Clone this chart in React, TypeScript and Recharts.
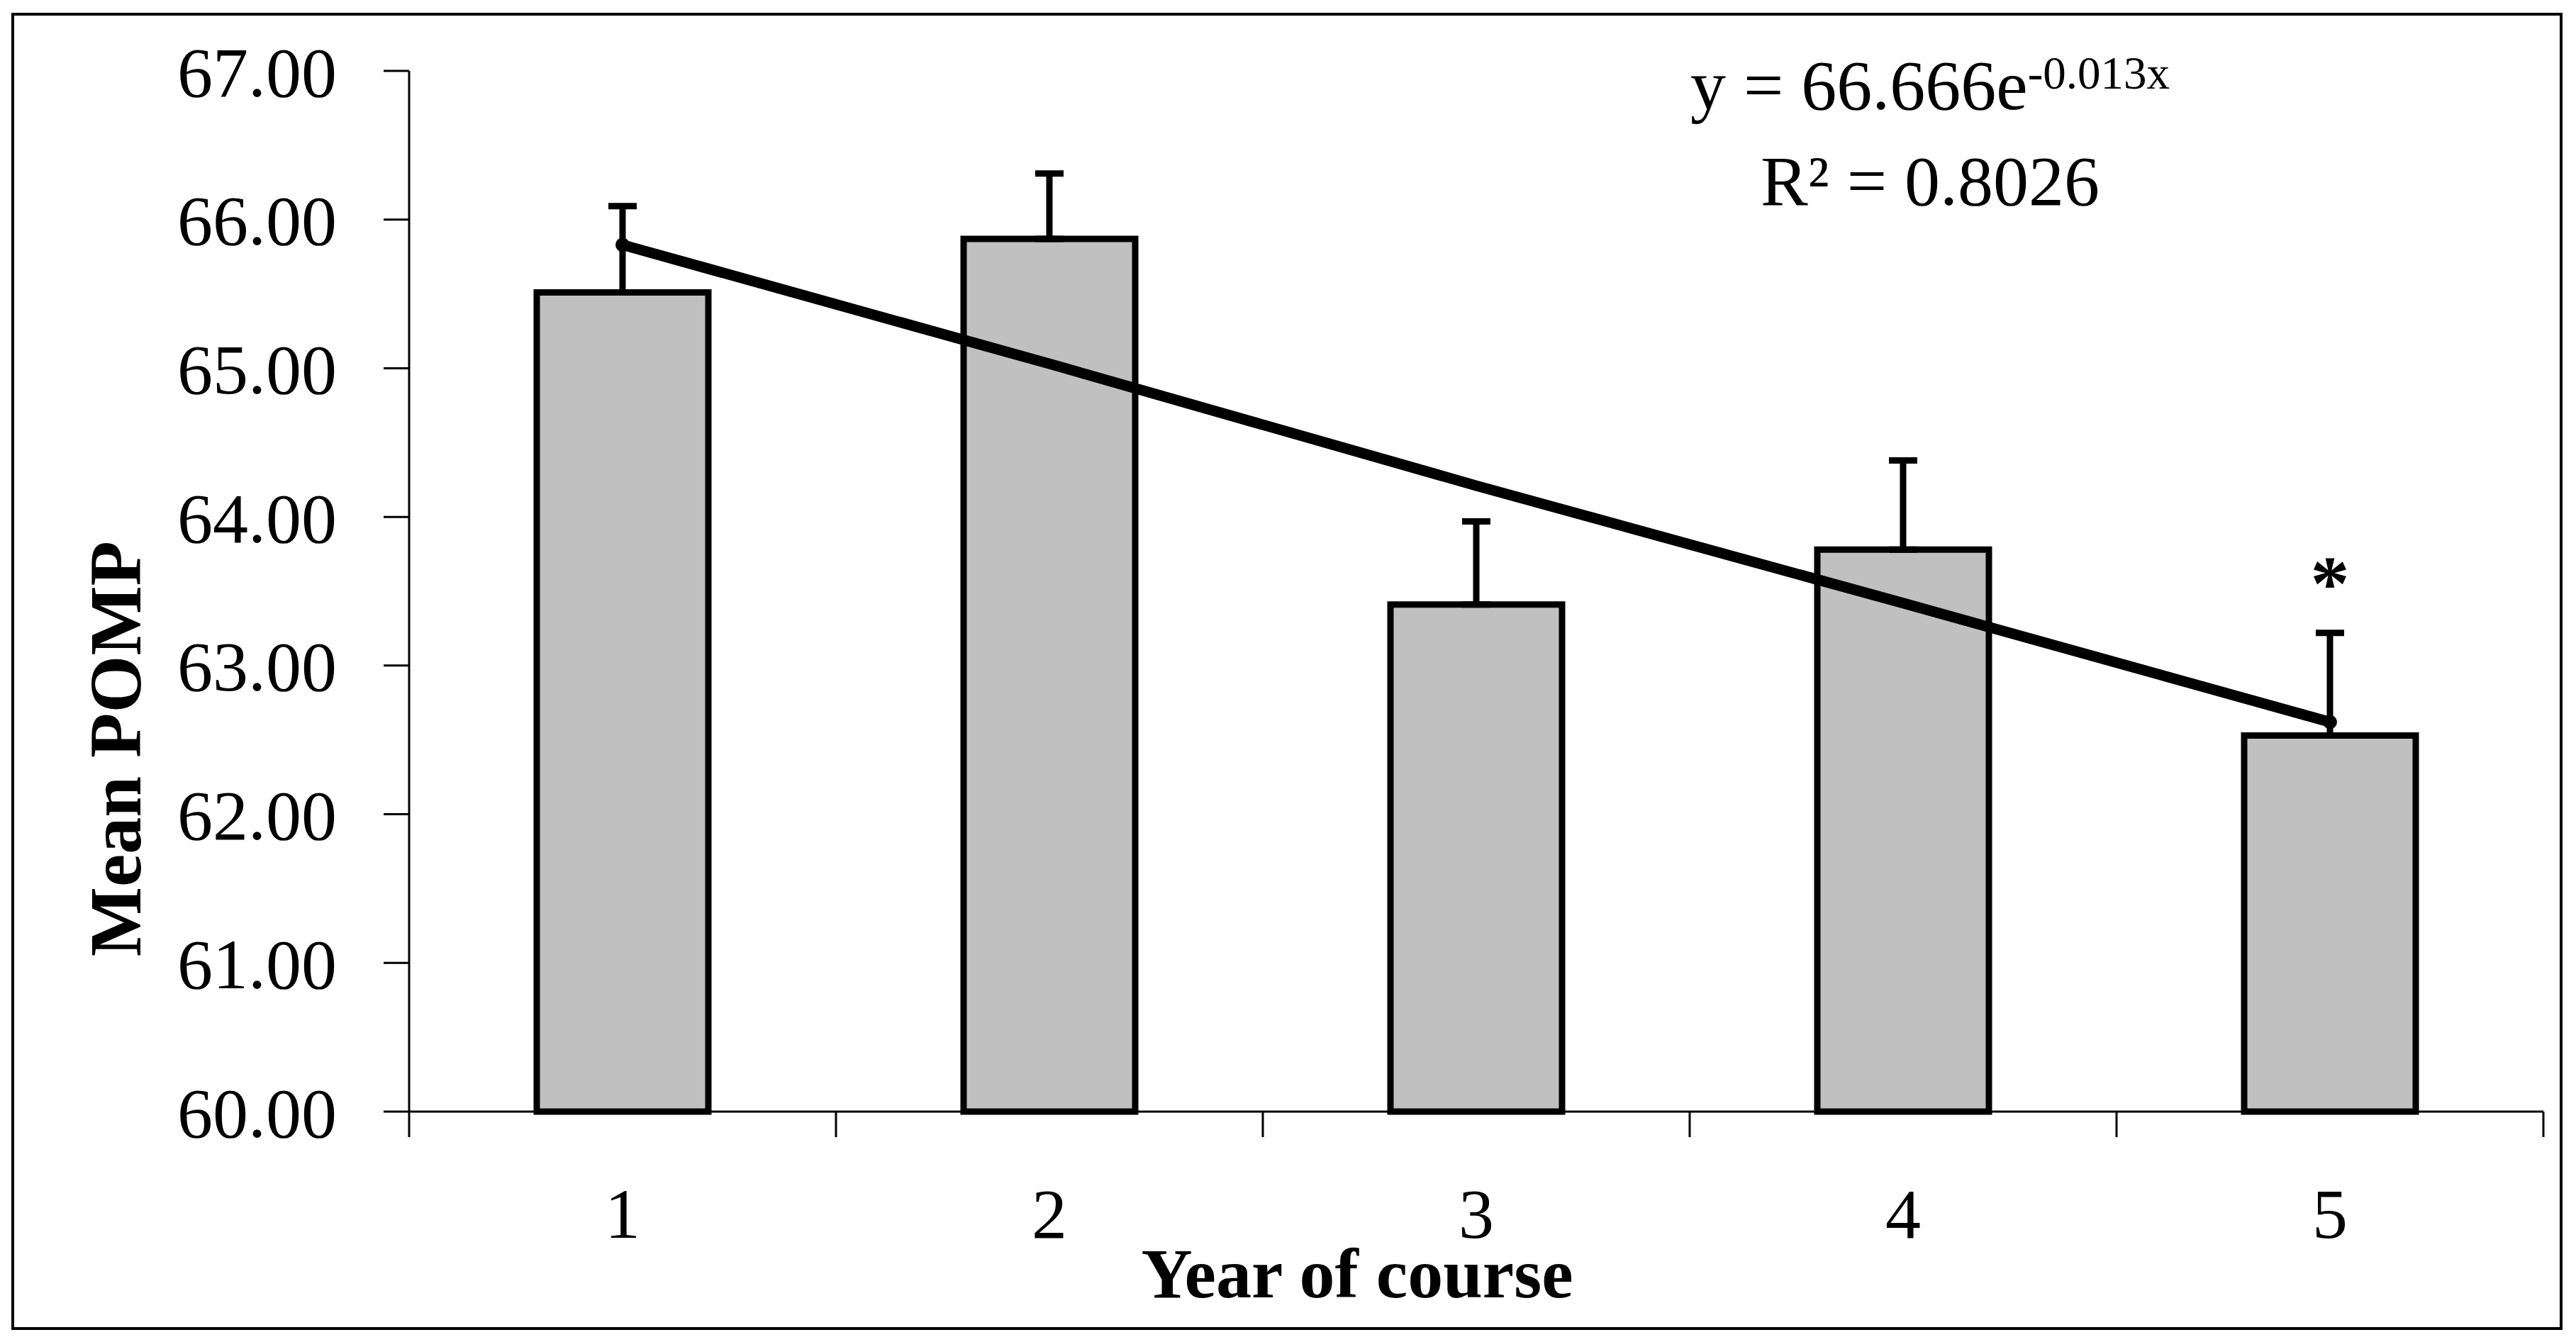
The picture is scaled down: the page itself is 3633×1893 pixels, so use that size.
import { ComposedChart, Bar, Line, XAxis, YAxis, ErrorBar, LabelList } from 'recharts';

const years = [1, 2, 3, 4, 5];
const meanPomp = [65.51, 65.87, 63.41, 63.78, 62.53];
const sdUpper = [0.58, 0.44, 0.56, 0.6, 0.69];
const trendValues = [65.83, 65.03, 64.21, 63.42, 62.62];
const significance = ['', '', '', '', '*'];
const yTicks = [60, 61, 62, 63, 64, 65, 66, 67];
// tick marks sit between the years, labels on the years
const xTicks = [...years.flatMap((y) => [y - 0.5, y]), years[years.length - 1] + 0.5];

const FONT = "'Liberation Serif', 'Times New Roman', serif";

const data = years.map((year, i) => ({
  year,
  mean: meanPomp[i],
  err: [0, sdUpper[i]],
  trend: trendValues[i],
  sig: significance[i],
}));

function XTick(props: any) {
  const { x, y, payload } = props;
  const v = Number(payload.value);
  if (!Number.isInteger(v)) {
    return <line x1={x} x2={x} y1={y} y2={y + 36} stroke="#000" strokeWidth={3} />;
  }
  return (
    <text x={x} y={y + 178} textAnchor="middle" fontSize={100} fontFamily={FONT} fill="#000">
      {v}
    </text>
  );
}

function TrendDot(props: any) {
  const { cx, cy, index } = props;
  if (index === 0 || index === trendValues.length - 1) {
    return <circle key={`dot-${index}`} cx={cx} cy={cy} r={10} fill="#000" />;
  }
  return <g key={`dot-${index}`} />;
}

function SigLabel(props: any) {
  const { x, y, width, value } = props;
  if (!value) return null;
  return (
    <text x={x + width / 2} y={y - 177} textAnchor="middle" fontSize={110} fontWeight="bold" fontFamily={FONT} fill="#000">
      {value}
    </text>
  );
}

export default function App() {
  return (
    <div style={{ position: 'absolute', left: 0, top: 0, width: 3633, height: 1893, background: '#fff' }}>
      <div
        style={{
          position: 'absolute',
          left: 16,
          top: 18,
          width: 3598,
          height: 1858,
          border: '4px solid #000',
          boxSizing: 'border-box',
        }}
      />
      <ComposedChart
        width={3633}
        height={1893}
        data={data}
        margin={{ top: 100, right: 46, left: 277, bottom: 125 }}
        style={{ position: 'absolute', left: 0, top: 0 }}
      >
        <XAxis
          dataKey="year"
          type="number"
          domain={[0.5, 5.5]}
          ticks={xTicks}
          interval={0}
          height={200}
          tickSize={0}
          tickMargin={0}
          tickLine={false}
          tick={<XTick />}
          axisLine={{ stroke: '#000', strokeWidth: 3 }}
        />
        <YAxis
          domain={[60, 67]}
          ticks={yTicks}
          interval={0}
          width={300}
          tickSize={36}
          tickMargin={66}
          tickFormatter={(v) => Number(v).toFixed(2)}
          tick={{ fontSize: 100, fontFamily: FONT, fill: '#000' }}
          tickLine={{ stroke: '#000', strokeWidth: 3 }}
          axisLine={{ stroke: '#000', strokeWidth: 3 }}
        />
        <Bar dataKey="mean" barSize={242} fill="#c0c0c0" stroke="#000" strokeWidth={9} isAnimationActive={false}>
          <ErrorBar dataKey="err" width={20} stroke="#000" strokeWidth={9} direction="y" />
          <LabelList dataKey="sig" content={<SigLabel />} />
        </Bar>
        <Line
          dataKey="trend"
          type="linear"
          stroke="#000"
          strokeWidth={15}
          strokeLinecap="round"
          dot={TrendDot}
          activeDot={false}
          isAnimationActive={false}
        />
      </ComposedChart>
      <svg width={3633} height={1893} style={{ position: 'absolute', left: 0, top: 0, pointerEvents: 'none' }}>
        <text x={2722} y={154} textAnchor="middle" fontSize={100} fontFamily={FONT} fill="#000">
          y = 66.666e
          <tspan fontSize={65} dy={-29}>-0.013x</tspan>
        </text>
        <text x={2722} y={289} textAnchor="middle" fontSize={100} fontFamily={FONT} fill="#000">
          R² = 0.8026
        </text>
        <text
          x={162}
          y={1056}
          transform="rotate(-90, 162, 1056)"
          textAnchor="middle"
          dominantBaseline="central"
          fontSize={104}
          fontWeight="bold"
          fontFamily={FONT}
          fill="#000"
        >
          Mean POMP
        </text>
        <text x={1914} y={1830} textAnchor="middle" fontSize={100} fontWeight="bold" fontFamily={FONT} fill="#000">
          Year of course
        </text>
      </svg>
    </div>
  );
}
